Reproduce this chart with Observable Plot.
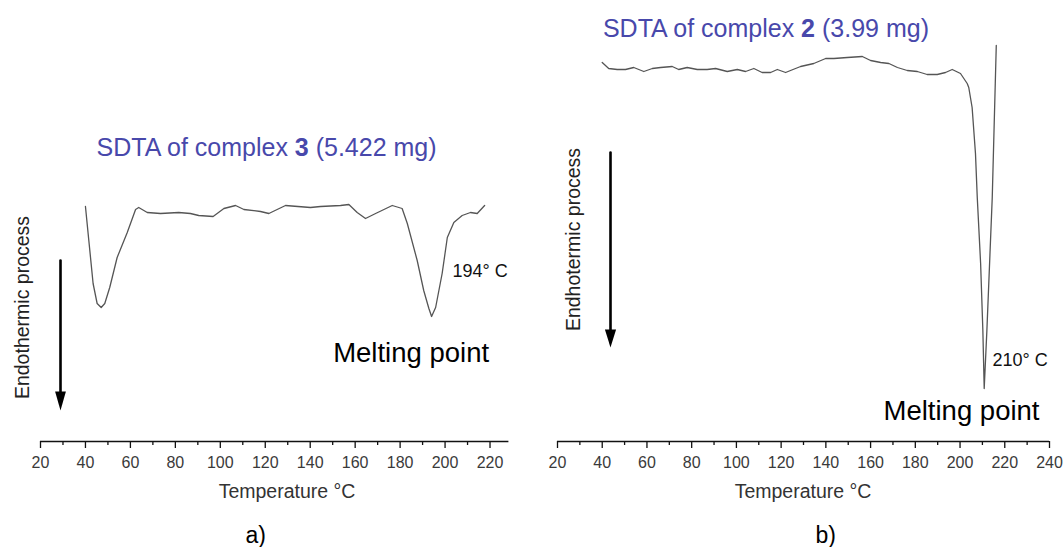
<!DOCTYPE html>
<html><head><meta charset="utf-8">
<script src="https://cdn.jsdelivr.net/npm/d3@7"></script>
<script src="https://cdn.jsdelivr.net/npm/@observablehq/plot@0.6"></script>
<style>
html,body{margin:0;padding:0;background:#fff;}
#wrap{display:flex;width:1064px;height:547px;overflow:hidden;}
#wrap svg{overflow:visible;display:block;}
</style></head><body><div id="wrap"></div>
<script>
// ---------- data: panel a) SDTA of complex 3 ----------
const tempA = [40,41.5,43.4,45.2,47.0,48.6,50.8,54.1,58.6,62.3,63.7,67.5,73.4,81.5,86.7,90.4,96.8,101.6,106.8,110.5,117.9,121.6,129.0,140.1,144.6,153.5,157.2,160.9,164.6,169.1,176.5,180.9,183.2,187.6,190.5,192.8,194.0,195.8,198.7,201.0,203.9,207.6,211.3,214.3,217.6];
const signalA = [235,201,158,138,134,138,154,184,209,232,234,229,228,229,228,226,225,233,236,232,230,228,236,234,235,236,237,229,223,228,236,233,218,181,151,133,125,134,168,204,219,226,229,228,236];
// ---------- data: panel b) SDTA of complex 2 ----------
const tempB = [40.0,42.9,46.7,50.4,54.1,58.6,62.4,66.1,71.3,74.2,78.0,82.5,86.9,90.7,95.9,100.4,104.1,107.8,111.5,115.3,118.3,122.0,124.2,128.7,134.6,139.9,143.6,149.6,156.3,160.0,164.5,168.2,172.0,176.4,180.9,185.3,189.8,193.5,196.5,200.2,203.2,203.9,205.4,206.9,207.7,209.2,210.2,210.8,212.0,214.4,216.2];
const signalB = [379,373,372,372,374,370,373,374,375,372,374,372,372,373,370,372,370,373,369,369,372,369,371,375,378,383,383,384,385,381,379,378,374,371,370,367,367,369,372,368,358,354,334,288,244,178,111,53,111,244,396];
// ---------- axes ----------
const majorA = [20,40,60,80,100,120,140,160,180,200,220];
const minorA = [30,50,70,90,110,130,150,170,190,210];
const majorB = [20,40,60,80,100,120,140,160,180,200,220,240];
const minorB = [30,50,70,90,110,130,150,170,190,210,230];
const xLabel = "Temperature °C";
// ---------- annotations ----------
const titleA = "SDTA of complex 3 (5.422 mg)";
const titleB = "SDTA of complex 2 (3.99 mg)";

const FONT = "Liberation Sans, Arial, Helvetica, sans-serif";
const BLUE = "#4848ab";

function panel(cfg) {
  const data = cfg.temp.map((t, i) => ({t, s: cfg.signal[i]}));
  const arrowShaft = [{x: cfg.arrow.x, y: cfg.arrow.top}, {x: cfg.arrow.x, y: cfg.arrow.base}];
  const arrowHead = [{x: cfg.arrow.x - cfg.arrow.hw, y: cfg.arrow.base}, {x: cfg.arrow.x, y: cfg.arrow.tip}, {x: cfg.arrow.x + cfg.arrow.hw, y: cfg.arrow.base}];
  const svg = Plot.plot({
    width: 532, height: 547,
    marginLeft: cfg.ml, marginRight: cfg.mr, marginTop: 0, marginBottom: 106,
    style: {fontFamily: FONT, background: "white", overflow: "visible"},
    x: {domain: cfg.xdomain, axis: null},
    y: {domain: [0, 441], axis: null},
    marks: [
      Plot.ruleY([0], {x1: cfg.xdomain[0], x2: cfg.xdomain[1], stroke: "#111", strokeWidth: 1.3}),
      Plot.axisX({ticks: cfg.major, tickSize: 7, tickPadding: 8, fontSize: 16, fill: "#3a3a3a", stroke: "#111", strokeWidth: 1.3, label: null}),
      Plot.axisX({ticks: cfg.minor, tickSize: 4, tickFormat: () => "", stroke: "#111", strokeWidth: 1.3, label: null}),
      Plot.line(data, {x: "t", y: "s", stroke: "#555", strokeWidth: 1.3}),
      Plot.line(arrowShaft, {x: "x", y: "y", stroke: "black", strokeWidth: 2.6}),
      Plot.line(arrowHead, {x: "x", y: "y", stroke: "none", fill: "black"}),
      Plot.text([cfg.title], {x: cfg.titlePos[0], y: cfg.titlePos[1], text: d => d, fontSize: 25, fill: BLUE, textAnchor: "middle", lineAnchor: "middle"}),
      Plot.text([cfg.sideLabel], {x: cfg.sidePos[0], y: cfg.sidePos[1], text: d => d, fontSize: 19.5, fill: "#222", rotate: -90, textAnchor: "middle", lineAnchor: "middle"}),
      Plot.text([cfg.peakLabel], {x: cfg.peakPos[0], y: cfg.peakPos[1], text: d => d, fontSize: 18, fill: "#111", textAnchor: "start", lineAnchor: "middle"}),
      Plot.text(["Melting point"], {x: cfg.meltPos[0], y: cfg.meltPos[1], text: d => d, fontSize: 27.5, fill: "black", textAnchor: "start", lineAnchor: "middle"}),
      Plot.text([xLabel], {x: cfg.xLabelX, frameAnchor: "bottom", dy: 50, text: d => d, fontSize: 19.5, fill: "#333", textAnchor: "middle", lineAnchor: "middle"}),
      Plot.text([cfg.letter], {x: cfg.letterX, frameAnchor: "bottom", dy: 94, text: d => d, fontSize: 23, fill: "black", textAnchor: "middle", lineAnchor: "middle"})
    ]
  });
  // bold the complex number inside the title
  d3.select(svg).selectAll("text").each(function() {
    if (this.textContent === cfg.title) {
      const m = cfg.title.match(/^(.*complex )(\d)( .*)$/);
      const sel = d3.select(this);
      sel.text(null);
      sel.append("tspan").text(m[1]);
      sel.append("tspan").attr("font-weight", "bold").text(m[2]);
      sel.append("tspan").text(m[3]);
    }
  });
  return svg;
}

const wrap = document.getElementById("wrap");
wrap.appendChild(panel({
  temp: tempA, signal: signalA, xdomain: [20, 228.4], ml: 40, mr: 23.6,
  major: majorA, minor: minorA,
  title: titleA, titlePos: [120.6, 294],
  sideLabel: "Endothermic process", sidePos: [12, 134],
  arrow: {x: 28.9, top: 181, base: 50, tip: 31, hw: 2.4},
  peakLabel: "194° C", peakPos: [203.3, 170],
  meltPos: [150.2, 88],
  xLabelX: 129.7, letter: "a)", letterX: 115.7
}));
wrap.appendChild(panel({
  temp: tempB, signal: signalB, xdomain: [20, 240], ml: 25, mr: 15,
  major: majorB, minor: minorB,
  title: titleB, titlePos: [113.2, 413],
  sideLabel: "Endhotermic process", sidePos: [27.2, 202],
  arrow: {x: 43.7, top: 289, base: 112, tip: 94, hw: 2.5},
  peakLabel: "210° C", peakPos: [214.5, 81],
  meltPos: [165.8, 30],
  xLabelX: 129.8, letter: "b)", letterX: 139.9
}));
</script></body></html>
